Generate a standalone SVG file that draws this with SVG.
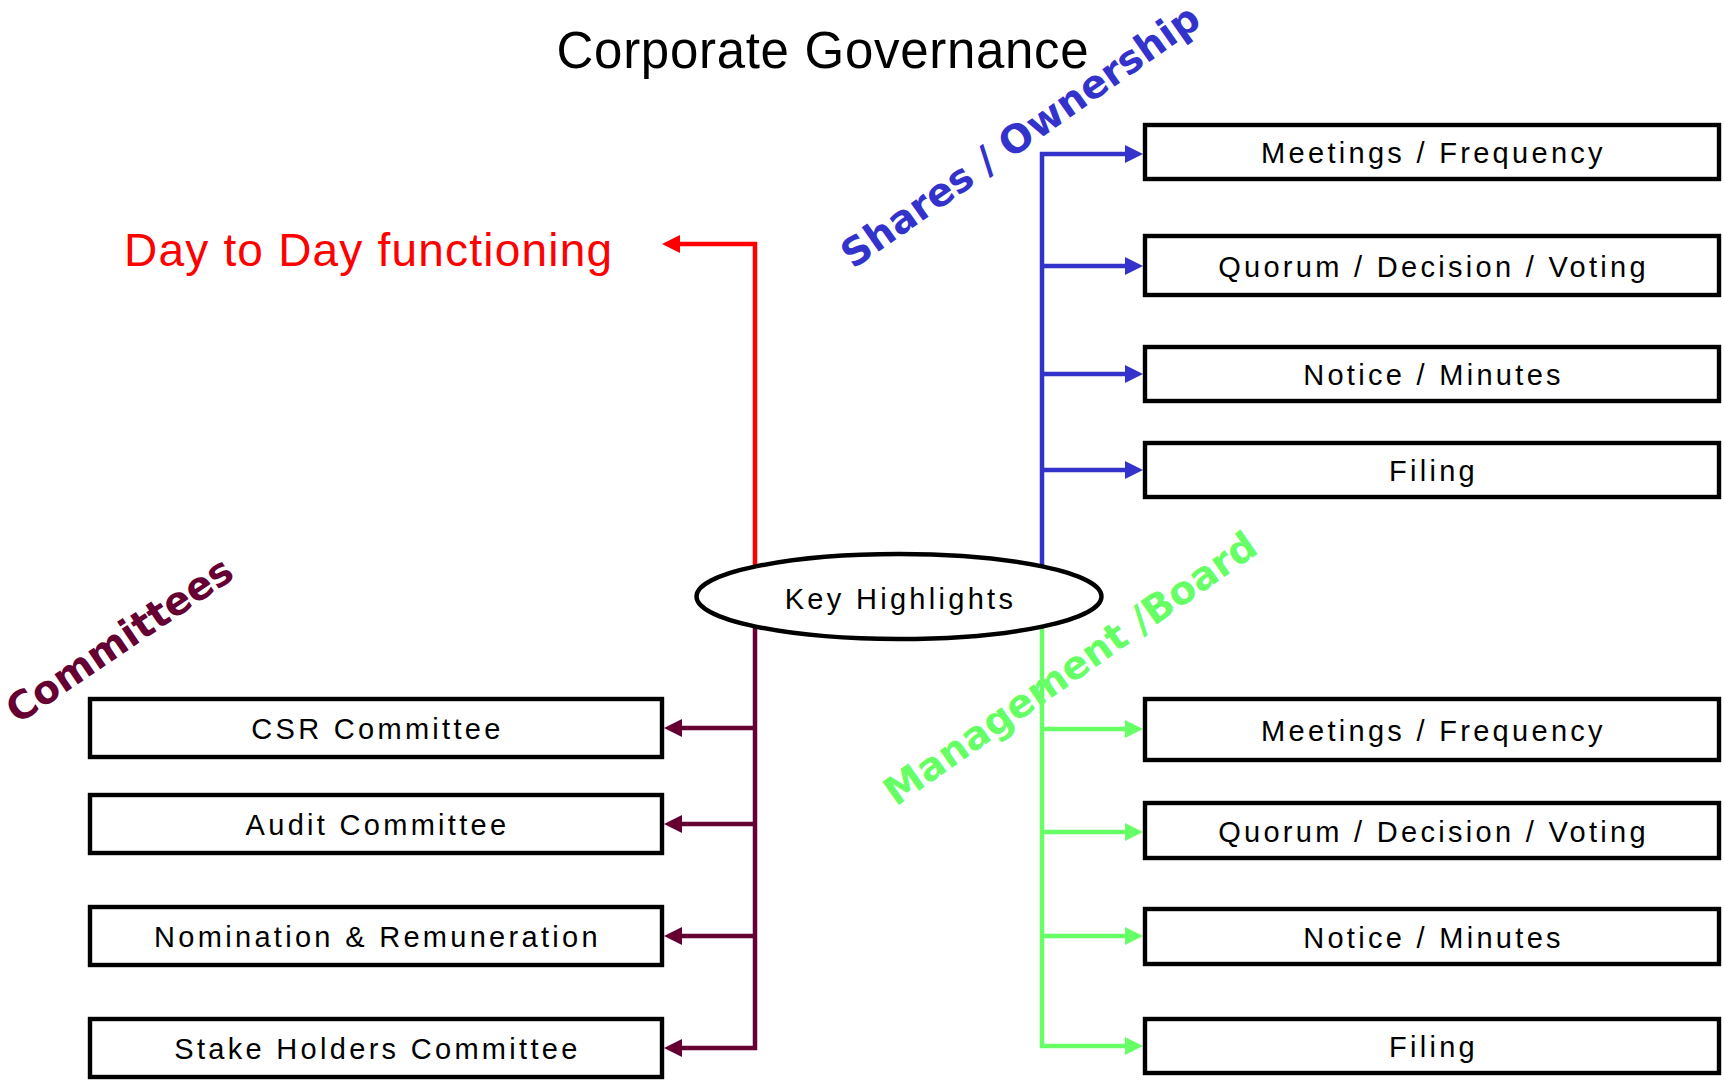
<svg xmlns="http://www.w3.org/2000/svg" width="1724" height="1081" viewBox="0 0 1724 1081">
<defs>
<style>
.box{fill:#ffffff;stroke:#000000;stroke-width:4.4}
.bt{font-family:"Liberation Sans",Arial,sans-serif;font-size:29px;letter-spacing:3.3px;fill:#000000;text-anchor:middle}
.ln{fill:none;stroke-width:4.5;stroke-linejoin:miter}
.lab{font-family:"DejaVu Sans",Verdana,sans-serif;font-weight:bold;font-size:39px;text-anchor:middle}
</style>
<marker id="aBlue" markerUnits="userSpaceOnUse" markerWidth="18" markerHeight="18" refX="0" refY="9" orient="auto"><path d="M0,0 L18,9 L0,18 Z" fill="#3333cc"/></marker>
<marker id="aGreen" markerUnits="userSpaceOnUse" markerWidth="18" markerHeight="18" refX="0" refY="9" orient="auto"><path d="M0,0 L18,9 L0,18 Z" fill="#66ff66"/></marker>
<marker id="aPurple" markerUnits="userSpaceOnUse" markerWidth="18" markerHeight="18" refX="0" refY="9" orient="auto"><path d="M0,0 L18,9 L0,18 Z" fill="#660033"/></marker>
<marker id="aRed" markerUnits="userSpaceOnUse" markerWidth="18" markerHeight="18" refX="0" refY="9" orient="auto"><path d="M0,0 L18,9 L0,18 Z" fill="#ff0000"/></marker>
</defs>
<rect width="1724" height="1081" fill="#ffffff"/>

<g id="title">
<text x="823" y="67.5" font-family="Liberation Sans, Arial, sans-serif" font-size="51" letter-spacing="0.7" text-anchor="middle" fill="#000000">Corporate Governance</text>
</g>

<g id="connectors">
<path class="ln" stroke="#ff0000" d="M755,567 V244 H680" marker-end="url(#aRed)"/>
<path class="ln" stroke="#3333cc" d="M1042,567 V154 H1125" marker-end="url(#aBlue)"/>
<path class="ln" stroke="#3333cc" d="M1042,266 H1125" marker-end="url(#aBlue)"/>
<path class="ln" stroke="#3333cc" d="M1042,374 H1125" marker-end="url(#aBlue)"/>
<path class="ln" stroke="#3333cc" d="M1042,470 H1125" marker-end="url(#aBlue)"/>
<path class="ln" stroke="#66ff66" d="M1042,626 V1046 H1125" marker-end="url(#aGreen)"/>
<path class="ln" stroke="#66ff66" d="M1042,729 H1125" marker-end="url(#aGreen)"/>
<path class="ln" stroke="#66ff66" d="M1042,832 H1125" marker-end="url(#aGreen)"/>
<path class="ln" stroke="#66ff66" d="M1042,936 H1125" marker-end="url(#aGreen)"/>
<path class="ln" stroke="#660033" d="M755,626 V1048 H682" marker-end="url(#aPurple)"/>
<path class="ln" stroke="#660033" d="M755,728 H682" marker-end="url(#aPurple)"/>
<path class="ln" stroke="#660033" d="M755,824 H682" marker-end="url(#aPurple)"/>
<path class="ln" stroke="#660033" d="M755,936 H682" marker-end="url(#aPurple)"/>
</g>

<g id="key-highlights">
<ellipse cx="899" cy="596.5" rx="202.5" ry="42.5" fill="#ffffff" stroke="#000000" stroke-width="4.4"/>
<text class="bt" x="900.5" y="609">Key Highlights</text>
</g>

<g id="day-to-day">
<text x="124" y="266" font-family="Liberation Sans, Arial, sans-serif" font-size="46" letter-spacing="1.2" fill="#ff0000">Day to Day functioning</text>
</g>

<g id="label-shares">
<text class="lab" fill="#3333cc" font-size="38" transform="translate(1028,147) rotate(-35)">Shares / Ownership</text>
</g>
<g id="label-management">
<text class="lab" fill="#66ff66" transform="translate(1078,679.5) rotate(-35)">Management /Board</text>
</g>
<g id="label-committees">
<text class="lab" fill="#660033" font-size="37" transform="translate(127,651) rotate(-34)">Committees</text>
</g>

<g id="sh-meetings"><rect class="box" x="1145" y="125" width="574" height="54"/><text class="bt" x="1433.5" y="163">Meetings / Frequency</text></g>
<g id="sh-quorum"><rect class="box" x="1145" y="236" width="574" height="59"/><text class="bt" x="1433.5" y="276.5">Quorum / Decision / Voting</text></g>
<g id="sh-notice"><rect class="box" x="1145" y="347" width="574" height="54"/><text class="bt" x="1433.5" y="385">Notice / Minutes</text></g>
<g id="sh-filing"><rect class="box" x="1145" y="443" width="574" height="54"/><text class="bt" x="1433.5" y="481">Filing</text></g>

<g id="mg-meetings"><rect class="box" x="1145" y="699" width="574" height="61"/><text class="bt" x="1433.5" y="740.5">Meetings / Frequency</text></g>
<g id="mg-quorum"><rect class="box" x="1145" y="803" width="574" height="55"/><text class="bt" x="1433.5" y="841.5">Quorum / Decision / Voting</text></g>
<g id="mg-notice"><rect class="box" x="1145" y="909" width="574" height="55"/><text class="bt" x="1433.5" y="947.5">Notice / Minutes</text></g>
<g id="mg-filing"><rect class="box" x="1145" y="1019" width="574" height="54"/><text class="bt" x="1433.5" y="1057">Filing</text></g>

<g id="cm-csr"><rect class="box" x="90" y="699" width="572" height="58"/><text class="bt" x="377.5" y="739">CSR Committee</text></g>
<g id="cm-audit"><rect class="box" x="90" y="795" width="572" height="58"/><text class="bt" x="377.5" y="835">Audit Committee</text></g>
<g id="cm-nomination"><rect class="box" x="90" y="907" width="572" height="58"/><text class="bt" x="377.5" y="947">Nomination &amp; Remuneration</text></g>
<g id="cm-stake"><rect class="box" x="90" y="1019" width="572" height="58"/><text class="bt" x="377.5" y="1059">Stake Holders Committee</text></g>
</svg>
